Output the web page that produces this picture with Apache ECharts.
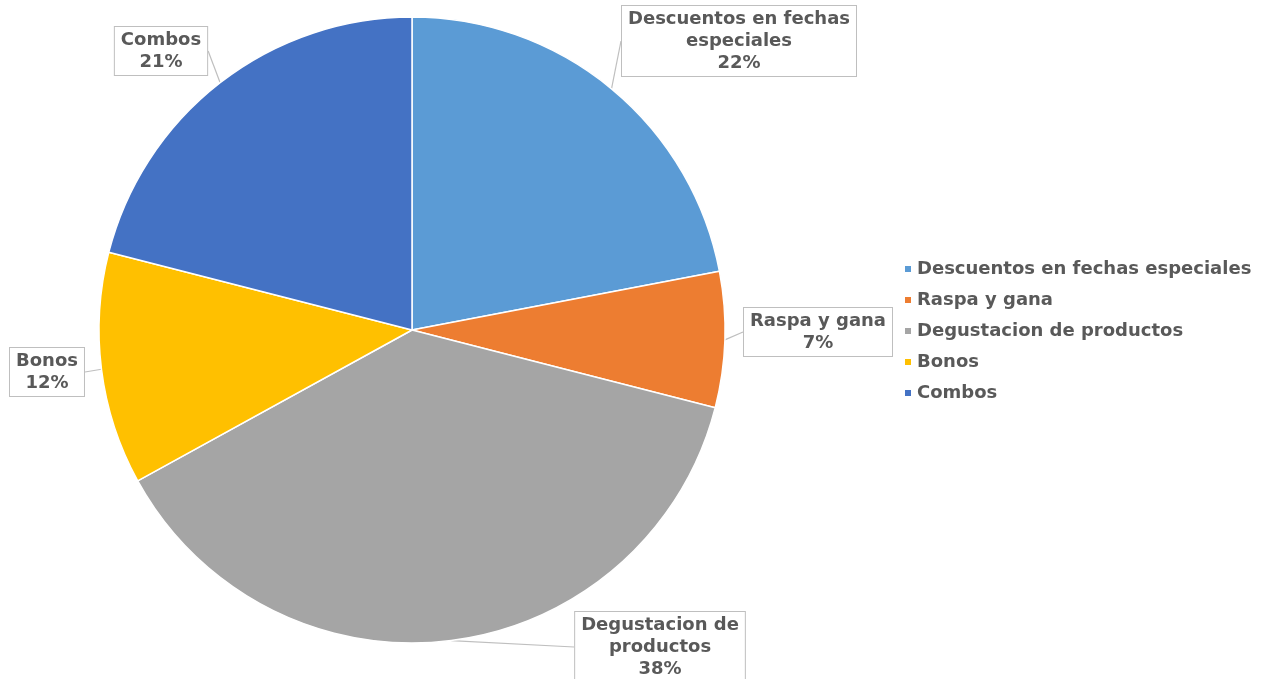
<!DOCTYPE html>
<html>
<head>
<meta charset="utf-8">
<script src="https://cdn.jsdelivr.net/npm/echarts@6/dist/echarts.min.js"></script>
<style>
  html, body { margin: 0; padding: 0; background: #ffffff; }
  #chart { width: 1274px; height: 679px; }
</style>
</head>
<body>
<div id="chart"></div>
<script>
// Promotion types and their share (%)
const categories = [
  'Descuentos en fechas especiales',
  'Raspa y gana',
  'Degustacion de productos',
  'Bonos',
  'Combos'
];
const shares = [22, 7, 38, 12, 21];
// Wrapped text used inside the callout boxes
const calloutNames = [
  'Descuentos en fechas\nespeciales',
  'Raspa y gana',
  'Degustacion de\nproductos',
  'Bonos',
  'Combos'
];
const colors = ['#5B9BD5', '#ED7D31', '#A5A5A5', '#FFC000', '#4472C4'];

// Callout box centres (px), same order as the categories
const calloutPos = [
  [739, 41],
  [818, 332],
  [660, 647],
  [47, 372],
  [161, 51]
];

const FONT = 'DejaVu Sans';
const TEXT = '#595959';

const chart = echarts.init(document.getElementById('chart'), null, { renderer: 'canvas' });

chart.setOption({
  backgroundColor: '#ffffff',
  animation: false,
  color: colors,
  legend: {
    orient: 'vertical',
    left: 898,
    top: 255,
    itemWidth: 8,
    itemHeight: 8,
    itemGap: 13,
    itemTextGap: 7,
    icon: 'rect',
    textStyle: { fontFamily: FONT, fontSize: 18, color: TEXT, fontWeight: 'bold' },
    data: categories
  },
  series: [{
    type: 'pie',
    center: [412, 330],
    radius: 313,
    startAngle: 90,
    clockwise: true,
    itemStyle: { borderColor: '#ffffff', borderWidth: 1.5 },
    label: {
      show: true,
      position: 'outside',
      overflow: 'none',
      formatter: p => calloutNames[p.dataIndex] + '\n' + p.value + '%',
      fontFamily: FONT,
      fontSize: 18,
      fontWeight: 'bold',
      lineHeight: 22,
      color: TEXT,
      align: 'center',
      backgroundColor: '#ffffff',
      borderColor: '#bfbfbf',
      borderWidth: 1,
      padding: [2, 6, 2, 6]
    },
    labelLine: {
      show: true,
      length: 0,
      length2: 0,
      lineStyle: { color: '#bfbfbf', width: 1.2 }
    },
    labelLayout: p => ({
      x: calloutPos[p.dataIndex][0],
      y: calloutPos[p.dataIndex][1],
      align: 'center',
      verticalAlign: 'middle'
    }),
    data: categories.map((c, i) => ({ name: c, value: shares[i] }))
  }]
});
</script>
</body>
</html>
